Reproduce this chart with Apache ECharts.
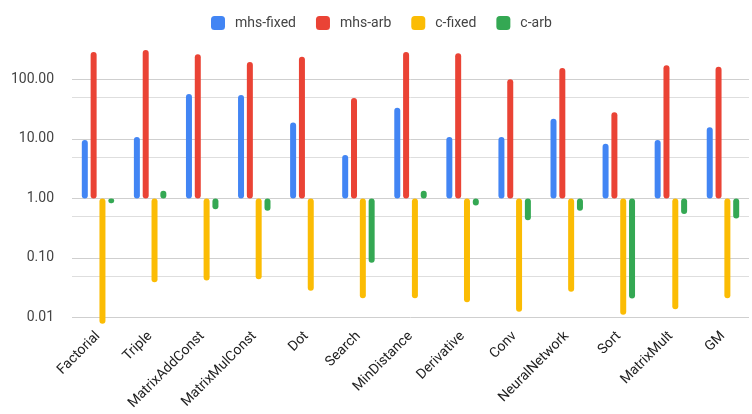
<!DOCTYPE html>
<html>
<head>
<meta charset="utf-8">
<script src="https://cdn.jsdelivr.net/npm/echarts@6/dist/echarts.min.js"></script>
<style>
  html, body { margin: 0; padding: 0; background: #ffffff; }
  #chart { width: 752px; height: 414px; }
</style>
</head>
<body>
<div id="chart"></div>
<script>
// Benchmarks on the category axis
const categories = ['Factorial', 'Triple', 'MatrixAddConst', 'MatrixMulConst', 'Dot', 'Search',
  'MinDistance', 'Derivative', 'Conv', 'NeuralNetwork', 'Sort', 'MatrixMult', 'GM'];

// Ratios per benchmark (log scale, bars grow from 1.0)
const mhsFixed = [9.6, 10.8, 57, 55, 19, 5.4, 33.6, 10.8, 10.8, 21.9, 8.3, 9.6, 15.7];
const mhsArb   = [290, 313, 265, 197, 242, 49, 290, 275, 101, 156, 28, 173, 164];
const cFixed   = [0.0078, 0.039, 0.0416, 0.044, 0.028, 0.021, 0.021, 0.018, 0.0125, 0.027, 0.0111, 0.0137, 0.021];
const cArb     = [0.83, 1.35, 0.66, 0.62, 1, 0.083, 1.35, 0.76, 0.43, 0.62, 0.0207, 0.55, 0.46];

// Labelled decades and the lighter in-between grid lines
const majorTicks = [0.01, 0.1, 1, 10, 100];
const minorGridValues = [0.05, 0.5, 5, 50];

const seriesNames = ['mhs-fixed', 'mhs-arb', 'c-fixed', 'c-arb'];
const seriesData = [mhsFixed, mhsArb, cFixed, cArb];
const colors = ['#4285F4', '#EA4335', '#FBBC04', '#34A853'];

const FONT = 'Roboto, "Liberation Sans", Arial, sans-serif';
const GRID = { left: 72, right: 3, top: 45, bottom: 87 };
const WIDTH = 752;

const isMajor = v => majorTicks.some(t => Math.abs(t - v) / t < 1e-6);

const series = seriesNames.map((name, i) => ({
  name: name,
  type: 'bar',
  data: seriesData[i],
  barWidth: 6,
  barGap: '47%',
  z: 3,
  itemStyle: { color: colors[i], borderRadius: 3 },
  emphasis: { disabled: true }
}));

const chart = echarts.init(document.getElementById('chart'), null, { renderer: 'canvas' });
chart.setOption({
  animation: false,
  color: colors,
  textStyle: { fontFamily: FONT },
  legend: {
    data: seriesNames,
    left: 206,
    top: 11,
    itemWidth: 14,
    itemHeight: 14,
    itemGap: 20,
    icon: 'roundRect',
    textStyle: { fontSize: 14, color: '#444444', fontFamily: FONT, padding: [0, 0, 0, 5] }
  },
  grid: Object.assign({ containLabel: false }, GRID),
  xAxis: {
    type: 'category',
    data: categories,
    axisLine: { show: false },
    axisTick: { show: false },
    splitLine: { show: false },
    axisLabel: {
      interval: 0,
      rotate: 45,
      margin: 7,
      fontSize: 14,
      color: '#222222',
      fontFamily: FONT
    }
  },
  yAxis: {
    type: 'log',
    logBase: 10,
    min: 0.0069,
    max: 380,
    axisLine: { show: false },
    axisTick: { show: false },
    splitLine: {
      show: true,
      showMinLine: false,
      showMaxLine: false,
      lineStyle: { color: '#cfcfcf', width: 1 }
    },
    axisLabel: {
      margin: 18,
      fontSize: 14,
      color: '#444444',
      fontFamily: FONT,
      showMinLabel: false,
      showMaxLabel: false,
      formatter: v => (isMajor(v) ? v.toFixed(2) : '')
    }
  },
  series: series
});

// Minor grid lines, placed through the y axis scale, kept behind the bars
const minorLines = minorGridValues.map(v => {
  const y = Math.round(chart.convertToPixel({ yAxisIndex: 0 }, v)) + 0.5;
  return {
    type: 'line',
    silent: true,
    z: 1,
    shape: { x1: GRID.left, y1: y, x2: WIDTH - GRID.right, y2: y },
    style: { stroke: '#dedede', lineWidth: 1 }
  };
});
chart.setOption({ graphic: { elements: minorLines } });
</script>
</body>
</html>
